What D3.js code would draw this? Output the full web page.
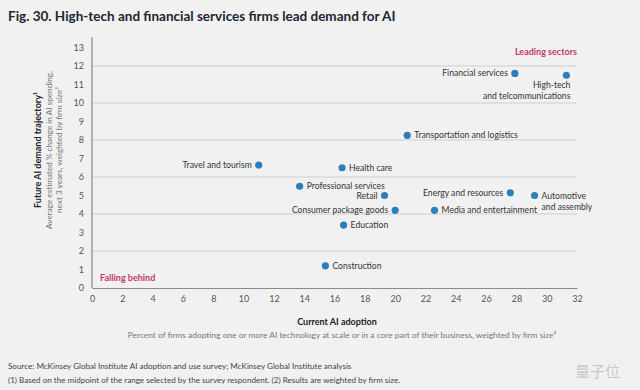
<!DOCTYPE html>
<html><head><meta charset="utf-8">
<script src="https://cdn.jsdelivr.net/npm/d3@7"></script>
<style>
html,body{margin:0;padding:0;background:#f1f1f1;}
svg{display:block;font-family:Lato,"Open Sans",sans-serif;}
</style></head><body>
<svg id="c" width="640" height="390"></svg>
<script>
const sectors = ["Travel and tourism","Professional services","Health care","Financial services","High-tech|and telcommunications","Transportation and logistics","Retail","Consumer package goods","Education","Construction","Energy and resources","Media and entertainment","Automotive|and assembly"];
const adoption = [11.0,13.7,16.5,27.9,31.3,20.8,19.3,20.0,16.6,15.4,27.6,22.6,29.2];
const demand = [6.65,5.5,6.5,11.6,11.5,8.25,5.0,4.2,3.4,1.2,5.15,4.2,5.0];
const labelSide = ["left","right","right","left","below","right","left","left","right","right","left","right","right"];
const xTicks = d3.range(0,33,2);
const yTicks = d3.range(0,14,1);
const gridTicks = [2,4,6,8,10,12];

const svg = d3.select("#c");
svg.append("rect").attr("width",640).attr("height",390).attr("fill","#f1f1f1");

const x = d3.scaleLinear().domain([0,32]).range([92,577]);
const y = d3.scaleLinear().domain([0,13]).range([288,47.5]);

svg.append("text").attr("x",8).attr("y",21).attr("font-size",13.5).attr("font-weight",700)
  .attr("fill","#1c2533").text("Fig. 30. High-tech and financial services firms lead demand for AI");

svg.append("g").selectAll("line").data(gridTicks).join("line")
  .attr("x1",x(0)).attr("x2",x(32)).attr("y1",d=>y(d)).attr("y2",d=>y(d))
  .attr("stroke","#cfcfcf").attr("stroke-width",1);

const xAxis = svg.append("g").attr("transform",`translate(0,${y(0)})`)
  .call(d3.axisBottom(x).tickValues(xTicks).tickSize(0).tickPadding(8).tickFormat(d3.format("d")));
const yAxis = svg.append("g").attr("transform",`translate(${x(0)},0)`)
  .call(d3.axisLeft(y).tickValues(yTicks).tickSize(0).tickPadding(8).tickFormat(d3.format("d")));
[xAxis,yAxis].forEach(g=>{
  g.select(".domain").attr("stroke","#8a8a8a").attr("stroke-width",1.2);
  g.selectAll("text").attr("font-size",9).attr("fill","#555").attr("font-family","Lato,sans-serif");
});
yAxis.select(".domain").remove();
svg.append("line").attr("x1",x(0)).attr("x2",x(0)).attr("y1",37).attr("y2",y(0))
  .attr("stroke","#8a8a8a").attr("stroke-width",1.2);

svg.append("text").attr("x",577).attr("y",55).attr("text-anchor","end").attr("font-size",9)
  .attr("font-weight",700).attr("fill","#c23a63").text("Leading sectors");
svg.append("text").attr("x",100).attr("y",281).attr("font-size",9)
  .attr("font-weight",700).attr("fill","#c23a63").text("Falling behind");

const data = sectors.map((s,i)=>({name:s,x:adoption[i],y:demand[i],side:labelSide[i]}));
svg.append("g").selectAll("circle").data(data).join("circle")
  .attr("cx",d=>x(d.x)).attr("cy",d=>y(d.y)).attr("r",3.6).attr("fill","#2a80b9");

const lg = svg.append("g").attr("font-size",8.6).attr("fill","#333");
data.forEach(d=>{
  const px=x(d.x), py=y(d.y);
  const lines=d.name.split("|");
  if(d.side==="left"){
    lg.append("text").attr("x",px-7).attr("y",py+3).attr("text-anchor","end").text(lines[0]);
  } else if(d.side==="right"){
    lines.forEach((l,k)=>lg.append("text").attr("x",px+7).attr("y",py+3+k*11.5).text(l));
  } else {
    lines.forEach((l,k)=>lg.append("text").attr("x",px+4).attr("y",py+13+k*11).attr("text-anchor","end").text(l));
  }
});

svg.append("text").attr("x",337).attr("y",325).attr("text-anchor","middle").attr("font-size",9)
  .attr("font-weight",700).attr("fill","#222").text("Current AI adoption");
svg.append("text").attr("x",342).attr("y",338).attr("text-anchor","middle").attr("font-size",8.4)
  .attr("fill","#777").text("Percent of firms adopting one or more AI technology at scale or in a core part of their business, weighted by firm size²");

const yt = svg.append("g").attr("transform","translate(0,150) rotate(-90)");
yt.append("text").attr("x",0).attr("y",41).attr("text-anchor","middle").attr("font-size",9)
  .attr("font-weight",700).attr("fill","#222").text("Future AI demand trajectory¹");
yt.append("text").attr("x",0).attr("y",52).attr("text-anchor","middle").attr("font-size",8.2)
  .attr("fill","#777").text("Average estimated % change in AI spending,");
yt.append("text").attr("x",0).attr("y",62).attr("text-anchor","middle").attr("font-size",8.2)
  .attr("fill","#777").text("next 3 years, weighted by firm size²");

svg.append("text").attr("x",8).attr("y",369).attr("font-size",8.1).attr("fill","#444")
  .text("Source: McKinsey Global Institute AI adoption and use survey; McKinsey Global Institute analysis");
svg.append("text").attr("x",8).attr("y",383).attr("font-size",8.1).attr("fill","#444")
  .text("(1) Based on the midpoint of the range selected by the survey respondent. (2) Results are weighted by firm size.");

svg.append("text").attr("x",620).attr("y",377).attr("text-anchor","end").attr("font-size",15)
  .attr("font-family","Noto Sans CJK SC").attr("fill","#c9c9c9").text("量子位");
</script>
</body></html>
